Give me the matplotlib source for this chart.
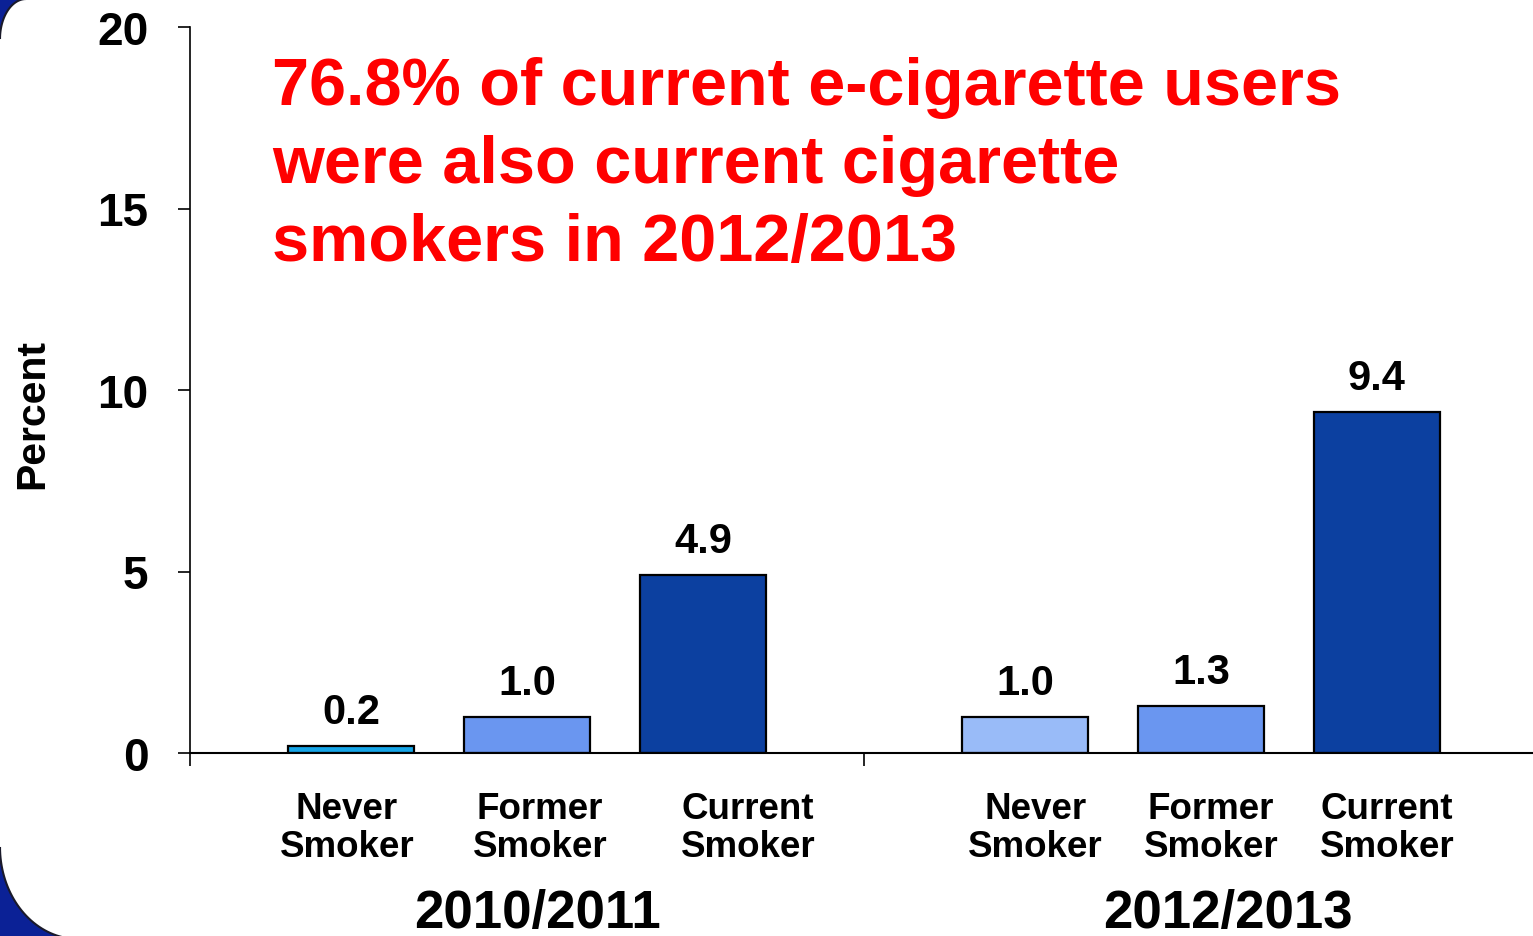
import numpy as np
import matplotlib
matplotlib.use("Agg")
import matplotlib.pyplot as plt
from matplotlib.patches import Polygon

plt.rcParams['font.family'] = ['Liberation Sans', 'DejaVu Sans']
plt.rcParams['font.weight'] = 'bold'

# data
groups = ['2010/2011', '2012/2013']
categories = ['Never\nSmoker', 'Former\nSmoker', 'Current\nSmoker']
values_2010 = [0.2, 1.0, 4.9]
values_2012 = [1.0, 1.3, 9.4]
value_text_2010 = ['0.2', '1.0', '4.9']
value_text_2012 = ['1.0', '1.3', '9.4']
colors_2010 = ['#16A6E8', '#6A96F0', '#0C40A0']
colors_2012 = ['#99BBF8', '#6A96F0', '#0C40A0']
headline = '76.8% of current e-cigarette users\nwere also current cigarette\nsmokers in 2012/2013'

W, H = 1533, 937
fig = plt.figure(figsize=(W / 100, H / 100), dpi=100)
fig.patch.set_facecolor('white')

# slide frame corners (dark blue, left side)
def corner(cx, cy, rx, ry, a0, a1, extra):
    t = np.linspace(a0, a1, 40)
    pts = [(cx + rx * np.cos(a), cy + ry * np.sin(a)) for a in t] + extra
    return [(x / W, 1 - y / H) for x, y in pts]

top = corner(26, 40, 26, 40, np.pi, 1.5 * np.pi, [(-5, -5)])
bot = corner(78, 848, 78, 92, np.pi, 0.5 * np.pi, [(-5, 945)])
for pts in (top, bot):
    fig.add_artist(Polygon(pts, closed=True, facecolor='#0B2196',
                           edgecolor='#1a1a2a', lw=1.5, transform=fig.transFigure))

ax = fig.add_axes([190 / W, 183 / H, 1348 / W, 726 / H])
ax.set_facecolor('none')

bar_w = 0.187
offsets = [0.239, 0.5, 0.761]
label_x = [[0.233, 0.519, 0.828], [1.254, 1.515, 1.776]]

for g, (vals, txts, cols) in enumerate([(values_2010, value_text_2010, colors_2010),
                                        (values_2012, value_text_2012, colors_2012)]):
    xs = [g + o for o in offsets]
    ax.bar(xs, vals, width=bar_w, color=cols, edgecolor='black', linewidth=1.6, zorder=3)
    for x, v, t in zip(xs, vals, txts):
        ax.annotate(t, (x, v), xytext=(0, 10), textcoords='offset points',
                    ha='center', va='bottom', fontsize=30, fontweight='bold')
    for x, c in zip(label_x[g], categories):
        ax.text(x, -2.05, c, ha='center', va='center', fontsize=26.5,
                fontweight='bold', linespacing=1.1)
    ax.text(g + [0.516, 0.54][g], -4.4, groups[g], ha='center', va='center',
            fontsize=38, fontweight='bold')

ax.set_xlim(0, 2)
ax.set_ylim(0, 20)
ax.set_yticks([0, 5, 10, 15, 20])
ax.set_xticks([0, 1, 2])
ax.set_xticklabels([])
ax.tick_params(axis='y', direction='out', length=9, width=1.2, pad=21, labelsize=33)
ax.tick_params(axis='x', direction='out', length=9, width=1.2)
for lab in ax.get_yticklabels():
    lab.set_fontweight('bold')
ax.spines['top'].set_visible(False)
ax.spines['right'].set_visible(False)
ax.spines['left'].set_linewidth(1.2)
ax.spines['bottom'].set_linewidth(1.5)
ax.spines['bottom'].set_zorder(4)

fig.text(32 / W, 1 - 414 / H, 'Percent', rotation=90, ha='center', va='center',
         fontsize=29.5, fontweight='bold')

fig.text(272 / W, 1 - 57 / H, headline, ha='left', va='top', color='#FF0000',
         fontsize=48, fontweight='bold', linespacing=1.33)

fig.savefig('out.png', dpi=100)
